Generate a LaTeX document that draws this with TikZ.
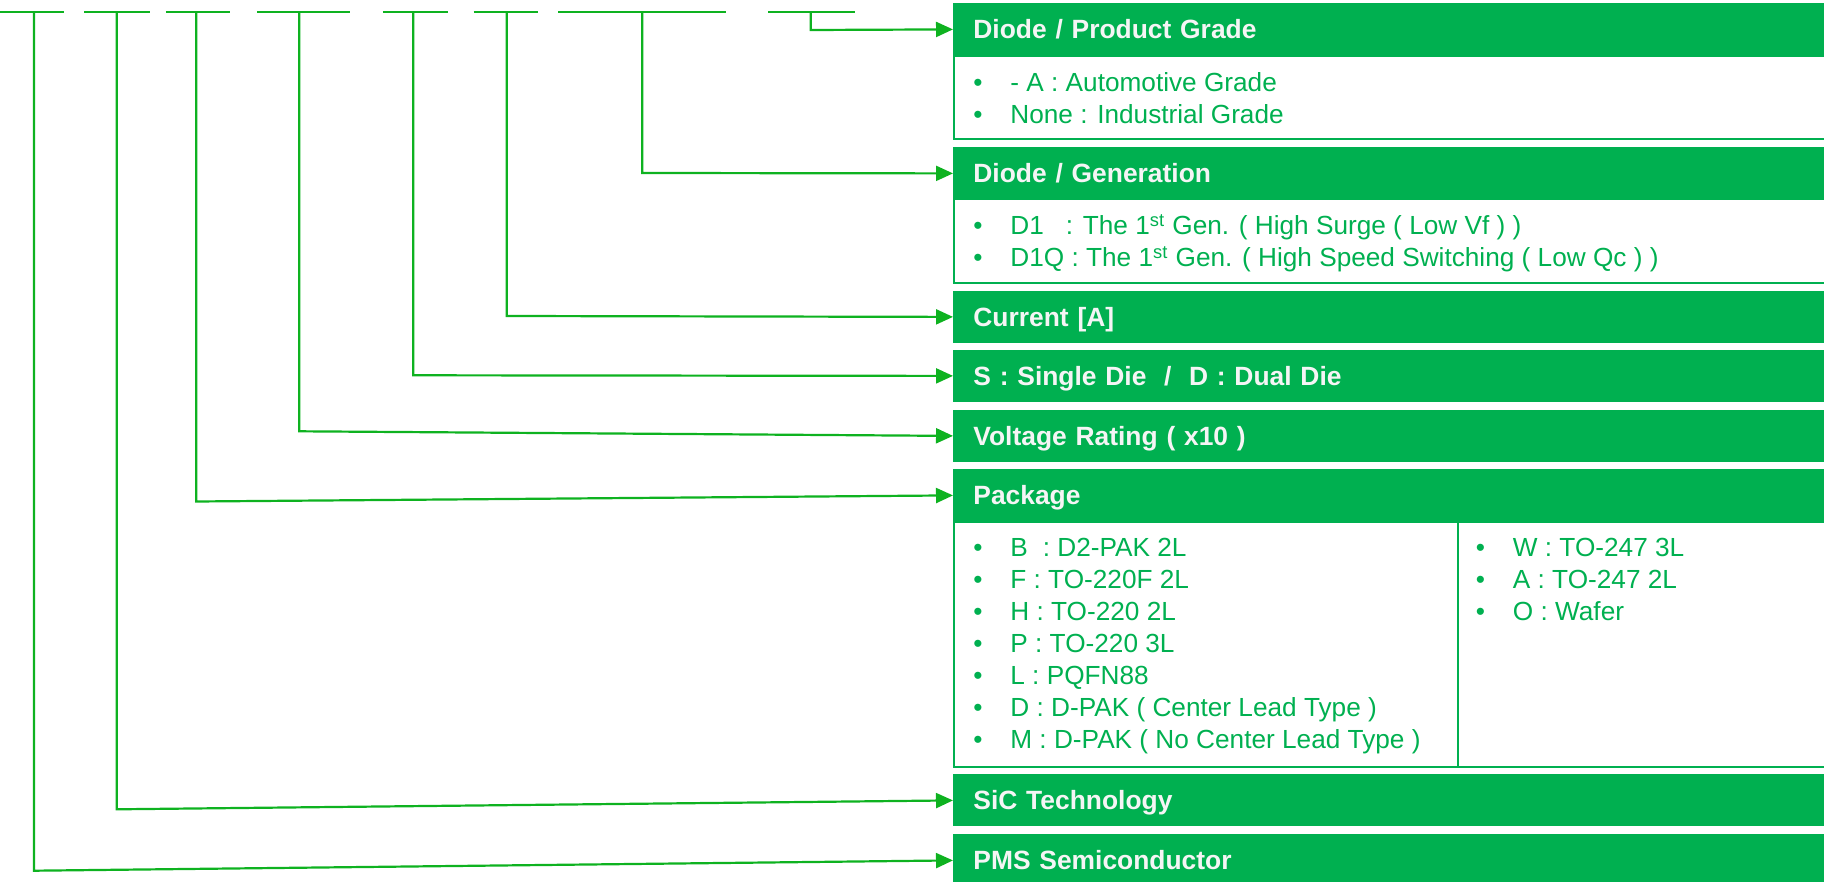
\documentclass[tikz,border=0pt]{standalone}
\usepackage{fontspec}
\setmainfont{Liberation Sans}
\usepackage{tikz}
\usetikzlibrary{arrows.meta}
\definecolor{pmsgreen}{RGB}{0,176,80}
\definecolor{wiregreen}{RGB}{14,178,32}
\newcommand{\itm}[1]{\strut\makebox[18.5pt][l]{\textbullet}#1}

\begin{document}
\begin{tikzpicture}[x=0.5pt, y=-0.5pt,
    hdr/.style={fill=pmsgreen, anchor=north west, minimum height=26pt, text width=418.5pt, inner xsep=10pt, text height=9.45pt, text depth=0pt, align=left, font=\fontsize{13.2}{16}\selectfont\bfseries, text=white!96!black},
    body/.style={draw=pmsgreen, line width=1pt, anchor=north west, minimum width=438.5pt, inner sep=0pt},
    lst/.style={anchor=north west, inner sep=0pt, align=left, font=\fontsize{13.1}{16}\selectfont, text=pmsgreen},
    tick/.style={wiregreen, line width=1.2pt},
    arr/.style={wiregreen, line width=1.1pt, -{Triangle[length=8.5pt, width=7.5pt]}}
]
\useasboundingbox (0,0) rectangle (1824,882);

% bodies first, headers over them
\node[body, minimum height=41.65pt] (gradebody) at (953,55) {};
\node[body, minimum height=41.7pt] (genbody) at (953,198.3) {};
\node[body, minimum width=252pt, minimum height=122.35pt] (pkgbodyL) at (953,521) {};
\node[body, minimum width=186.5pt, minimum height=122.35pt] (pkgbodyR) at (1457,521) {};

\node[hdr] (grade) at (953,3) {Diode / Product Grade};
\node[hdr] (gen) at (953,147) {Diode / Generation};
\node[hdr] (cur) at (953,290.5) {Current [A]};
\node[hdr] (die) at (953,349.5) {S : Single Die \ / \ D : Dual Die};
\node[hdr] (volt) at (953,409.5) {Voltage Rating ( x10 )};
\node[hdr] (pkg) at (953,469) {Package};
\node[hdr] (sic) at (953,774) {SiC Technology};
\node[hdr] (pms) at (953,834) {PMS Semiconductor};

\node[lst] (gradelist) at (973,68.8) {\itm{- A : Automotive Grade}\\\itm{None : Industrial Grade}};
\node[lst] (genlist) at (973,212.1) {\itm{D1\hspace{11pt}: The 1\textsuperscript{st} Gen. ( High Surge ( Low Vf ) )}\\
    \itm{D1Q : The 1\textsuperscript{st} Gen. ( High Speed Switching ( Low Qc ) )}};
\node[lst] (pkglistL) at (973,533.8) {\itm{B\hspace{7.5pt}: D2-PAK 2L}\\\itm{F : TO-220F 2L}\\\itm{H : TO-220 2L}\\
    \itm{P : TO-220 3L}\\\itm{L : PQFN88}\\\itm{D : D-PAK ( Center Lead Type )}\\\itm{M : D-PAK ( No Center Lead Type )}};
\node[lst] (pkglistR) at (1475.5,533.8) {\itm{W : TO-247 3L}\\\itm{A : TO-247 2L}\\\itm{O : Wafer}};

% part number digits
\draw[tick] (0,12) -- (63.7,12);
\draw[tick] (84.4,12) -- (149.8,12);
\draw[tick] (165.9,12) -- (230.2,12);
\draw[tick] (257.2,12) -- (350.2,12);
\draw[tick] (382.9,12) -- (447.8,12);
\draw[tick] (473.6,12) -- (537.9,12);
\draw[tick] (558,12) -- (725.6,12);
\draw[tick] (768,12) -- (854.8,12);

\coordinate (s1) at (34,12);    \coordinate (c1) at (34,870.7);
\coordinate (s2) at (116.7,12); \coordinate (c2) at (116.7,809.3);
\coordinate (s3) at (196.3,12); \coordinate (c3) at (196.3,501.5);
\coordinate (s4) at (299.3,12); \coordinate (c4) at (299.3,431.3);
\coordinate (s5) at (413.3,12); \coordinate (c5) at (413.3,375.3);
\coordinate (s6) at (506.7,12); \coordinate (c6) at (506.7,316);
\coordinate (s7) at (642.3,12); \coordinate (c7) at (642.3,173);
\coordinate (s8) at (810.8,12); \coordinate (c8) at (810.8,30);

\draw[arr] (s1) -- (c1) -- (pms.west);
\draw[arr] (s2) -- (c2) -- (sic.west);
\draw[arr] (s3) -- (c3) -- (pkg.west);
\draw[arr] (s4) -- (c4) -- (volt.west);
\draw[arr] (s5) -- (c5) -- (die.west);
\draw[arr] (s6) -- (c6) -- (cur.west);
\draw[arr] (s7) -- (c7) -- (gen.west);
\draw[arr] (s8) -- (c8) -- (grade.west);
\end{tikzpicture}
\end{document}
